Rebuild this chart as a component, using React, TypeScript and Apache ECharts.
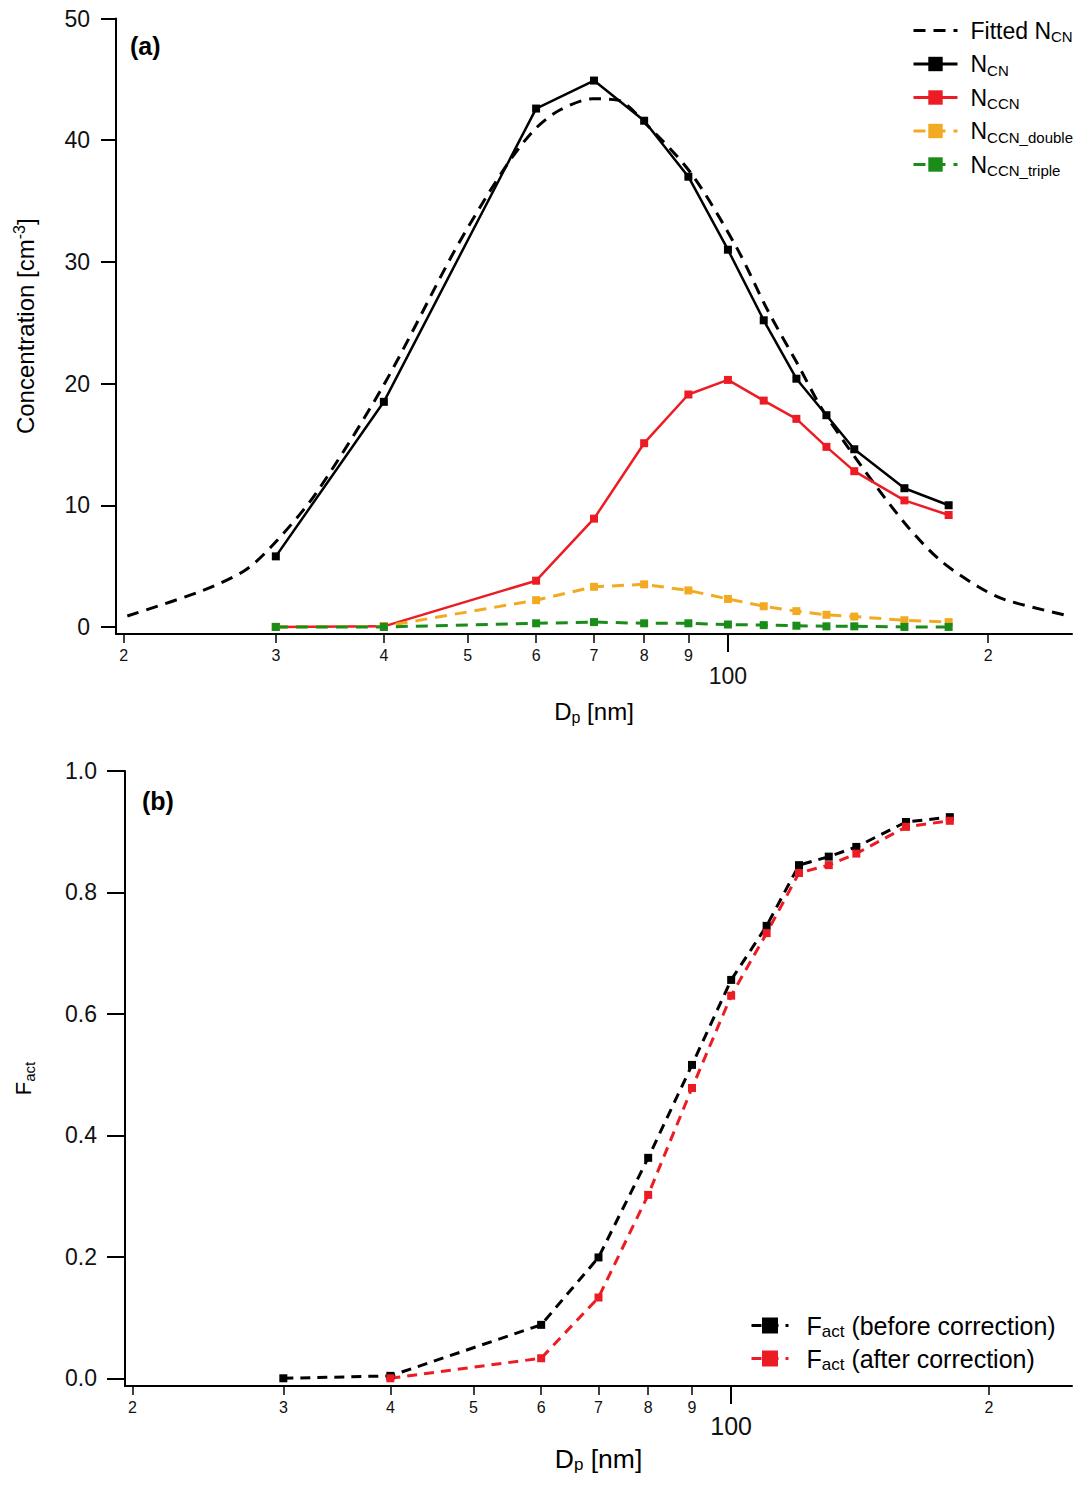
import { useEffect, useRef } from "react";
import * as echarts from "echarts";

// particle diameters [nm] of the measured points
const diameters = [30, 40, 60, 70, 80, 90, 100, 110, 120, 130, 140, 160, 180];
const nCN = [5.8, 18.5, 42.6, 44.9, 41.6, 37.0, 31.0, 25.2, 20.4, 17.4, 14.6, 11.4, 10.0];
const nCCN = [0, 0.05, 3.8, 8.9, 15.1, 19.1, 20.3, 18.6, 17.1, 14.8, 12.8, 10.4, 9.2];
const nCCNDouble = [0, 0.05, 2.2, 3.3, 3.5, 3.0, 2.3, 1.7, 1.3, 1.0, 0.85, 0.55, 0.4];
const nCCNTriple = [0, 0, 0.3, 0.4, 0.3, 0.3, 0.2, 0.15, 0.1, 0.05, 0.05, 0, 0];

// fitted curve
const fitDiameters = [20.2, 24.7, 27.7, 30, 33.4, 40, 48.1, 52.3, 56.3, 60, 64, 69.8, 74.5, 80.2, 90.6, 102.3, 111.2, 120.4, 128, 136.6, 148.6, 161.6, 175.8, 194.8, 209.9, 248.3];
const fitNCN = [0.9, 3.0, 4.7, 7.0, 11.0, 19.9, 30.7, 35.1, 38.6, 41.0, 42.5, 43.4, 43.3, 41.4, 37.3, 31.2, 26.0, 21.6, 18.1, 15.1, 11.5, 8.2, 5.5, 3.3, 2.2, 0.9];

const fActBefore = [0.0, 0.004, 0.088, 0.199, 0.363, 0.516, 0.656, 0.745, 0.845, 0.859, 0.875, 0.916, 0.924];
const fActAfter = [null, 0.0, 0.033, 0.133, 0.302, 0.478, 0.63, 0.733, 0.832, 0.845, 0.864, 0.908, 0.918];

const minorTicks = [20, 30, 40, 50, 60, 70, 80, 90, 200];
const majorTicks = [100];
const concTicks = [0, 10, 20, 30, 40, 50];
const fActTicks = [0, 0.2, 0.4, 0.6, 0.8, 1.0];

const xMin = 19.6;
const xMax = 250;

const lg = (d: number) => Math.log10(d);

const pairs = (xs: number[], ys: (number | null)[]) =>
  xs.map((d, i) => [lg(d), ys[i]]).filter((p) => p[1] !== null);

const legendLabels: Record<string, string> = {
  "Fitted NCN": "{f|Fitted N}{s|CN}",
  NCN: "{f|N}{s|CN}",
  NCCN: "{f|N}{s|CCN}",
  NCCN_double: "{f|N}{s|CCN_double}",
  NCCN_triple: "{f|N}{s|CCN_triple}",
  "Fact (before correction)": "{g|F}{s|act}{t| (before correction)}",
  "Fact (after correction)": "{g|F}{s|act}{t| (after correction)}",
};

const FONT = '"Liberation Sans", Arial, sans-serif';

const subRich = (size: number) => ({
  f: { fontSize: size, color: "#000", padding: [0, 0, 0, 8], fontFamily: FONT },
  g: { fontSize: size, color: "#000", padding: [0, 0, 0, 13], fontFamily: FONT },
  t: { fontSize: size, color: "#000", fontFamily: FONT },
  s: { fontSize: Math.round(size * 0.66), color: "#000", padding: [12, 0, 0, 0], fontFamily: FONT },
  sup: { fontSize: Math.round(size * 0.66), color: "#000", padding: [0, 0, 12, 0], fontFamily: FONT },
});

function xAxes(gridIndex: number, nameSize: number, nameGap: number, bigSize: number, bigMargin: number) {
  return [
    {
      type: "value",
      gridIndex,
      position: "bottom",
      min: lg(xMin),
      max: lg(xMax),
      axisLine: { show: true, onZero: false, lineStyle: { color: "#000", width: 2 } },
      axisTick: {
        show: true,
        length: 9,
        customValues: minorTicks.map(lg),
        lineStyle: { color: "#000", width: 1.5 },
      },
      axisLabel: {
        show: true,
        customValues: minorTicks.map(lg),
        formatter: (v: number) => String(Math.round(10 ** v / 10 ** Math.floor(v + 1e-9))),
        fontSize: 16,
        color: "#111",
        margin: 13,
      },
      splitLine: { show: false },
      name: "{t|D}{s|p}{t| [nm]}",
      nameLocation: "middle",
      nameGap,
      nameTextStyle: { rich: subRich(nameSize) },
    },
    {
      type: "value",
      gridIndex,
      position: "bottom",
      min: lg(xMin),
      max: lg(xMax),
      axisLine: { show: false, onZero: false },
      axisTick: {
        show: true,
        length: 18,
        customValues: majorTicks.map(lg),
        lineStyle: { color: "#000", width: 2 },
      },
      axisLabel: {
        show: true,
        customValues: majorTicks.map(lg),
        formatter: (v: number) => String(Math.round(10 ** v)),
        fontSize: bigSize,
        color: "#111",
        margin: bigMargin,
      },
      splitLine: { show: false },
    },
  ];
}

export default function App() {
  const chartRef = useRef<HTMLDivElement>(null);

  useEffect(() => {
    let chart: echarts.ECharts | null = null;
    if (chartRef.current) {
      chart = echarts.init(chartRef.current, null, { renderer: "svg" });
      chart.setOption({
        animation: false,
        backgroundColor: "#fff",
        textStyle: { fontFamily: FONT },
        grid: [
          { left: 116, top: 18.5, right: 18, bottom: 851, containLabel: false },
          { left: 125, top: 771, right: 18, bottom: 99, containLabel: false },
        ],
        xAxis: [...xAxes(0, 24, 63, 23, 30), ...xAxes(1, 26.5, 58, 25, 27)],
        yAxis: [
          {
            type: "value",
            gridIndex: 0,
            min: -0.58,
            max: 50,
            axisLine: { show: true, onZero: false, lineStyle: { color: "#000", width: 2 } },
            axisTick: { show: true, length: 15, customValues: concTicks, lineStyle: { color: "#000", width: 2 } },
            axisLabel: { customValues: concTicks, fontSize: 23, color: "#111", margin: 26 },
            splitLine: { show: false },
            name: "{t|Concentration [cm}{sup|-3}{t|]}",
            nameLocation: "middle",
            nameGap: 77,
            nameTextStyle: { rich: subRich(24) },
          },
          {
            type: "value",
            gridIndex: 1,
            min: -0.0127,
            max: 1,
            axisLine: { show: true, onZero: false, lineStyle: { color: "#000", width: 2 } },
            axisTick: { show: true, length: 18, customValues: fActTicks, lineStyle: { color: "#000", width: 2 } },
            axisLabel: {
              customValues: fActTicks,
              formatter: (v: number) => v.toFixed(1),
              fontSize: 23,
              color: "#111",
              margin: 28,
            },
            splitLine: { show: false },
            name: "{t|F}{s|act}",
            nameLocation: "middle",
            nameGap: 88,
            nameTextStyle: { rich: subRich(22) },
          },
        ],
        legend: [
          {
            data: ["Fitted NCN", "NCN", "NCCN", "NCCN_double", "NCCN_triple"],
            orient: "vertical",
            left: 912,
            top: 19,
            padding: 0,
            itemWidth: 44,
            itemHeight: 18,
            itemGap: 8.5,
            lineStyle: { width: 3 },
            formatter: (name: string) => legendLabels[name],
            textStyle: { color: "#000", fontSize: 23, rich: subRich(23) },
          },
          {
            data: ["Fact (before correction)", "Fact (after correction)"],
            orient: "vertical",
            left: 750,
            top: 1313,
            padding: 0,
            itemWidth: 37,
            itemHeight: 20,
            itemGap: 6,
            lineStyle: { width: 3 },
            formatter: (name: string) => legendLabels[name],
            textStyle: { color: "#000", fontSize: 25, rich: subRich(25) },
          },
        ],
        graphic: [
          {
            type: "text",
            left: 130,
            top: 33,
            style: { text: "(a)", font: `bold 25px ${FONT}`, fill: "#000" },
          },
          {
            type: "text",
            left: 142,
            top: 788,
            style: { text: "(b)", font: `bold 25px ${FONT}`, fill: "#000" },
          },
        ],
        series: [
          {
            name: "Fitted NCN",
            type: "line",
            xAxisIndex: 0,
            yAxisIndex: 0,
            data: pairs(fitDiameters, fitNCN),
            symbol: "none",
            smooth: 0.3,
            lineStyle: { color: "#000", width: 3, type: [12, 8] },
            itemStyle: { color: "#000", opacity: 0 },
          },
          {
            name: "NCN",
            type: "line",
            xAxisIndex: 0,
            yAxisIndex: 0,
            data: pairs(diameters, nCN),
            symbol: "rect",
            symbolSize: 8,
            lineStyle: { color: "#000", width: 2.5 },
            itemStyle: { color: "#000" },
          },
          {
            name: "NCCN",
            type: "line",
            xAxisIndex: 0,
            yAxisIndex: 0,
            data: pairs(diameters, nCCN),
            symbol: "rect",
            symbolSize: 8,
            lineStyle: { color: "#ec1c24", width: 2.5 },
            itemStyle: { color: "#ec1c24" },
          },
          {
            name: "NCCN_double",
            type: "line",
            xAxisIndex: 0,
            yAxisIndex: 0,
            data: pairs(diameters, nCCNDouble),
            symbol: "rect",
            symbolSize: 8,
            lineStyle: { color: "#f2aa22", width: 3, type: [12, 8] },
            itemStyle: { color: "#f2aa22" },
          },
          {
            name: "NCCN_triple",
            type: "line",
            xAxisIndex: 0,
            yAxisIndex: 0,
            data: pairs(diameters, nCCNTriple),
            symbol: "rect",
            symbolSize: 8,
            lineStyle: { color: "#1a8c1a", width: 3, type: [12, 8] },
            itemStyle: { color: "#1a8c1a" },
          },
          {
            name: "Fact (before correction)",
            type: "line",
            xAxisIndex: 2,
            yAxisIndex: 1,
            data: pairs(diameters, fActBefore),
            symbol: "rect",
            symbolSize: 8,
            lineStyle: { color: "#000", width: 3, type: [10, 7] },
            itemStyle: { color: "#000" },
          },
          {
            name: "Fact (after correction)",
            type: "line",
            xAxisIndex: 2,
            yAxisIndex: 1,
            data: pairs(diameters, fActAfter),
            symbol: "rect",
            symbolSize: 8,
            lineStyle: { color: "#ec1c24", width: 3, type: [10, 7] },
            itemStyle: { color: "#ec1c24" },
          },
        ],
      });
    }
    return () => {
      if (chart) {
        chart.dispose();
      }
    };
  }, []);

  return (
    <div
      ref={chartRef}
      style={{ position: "absolute", left: 0, top: 0, width: 1090, height: 1485 }}
    />
  );
}
